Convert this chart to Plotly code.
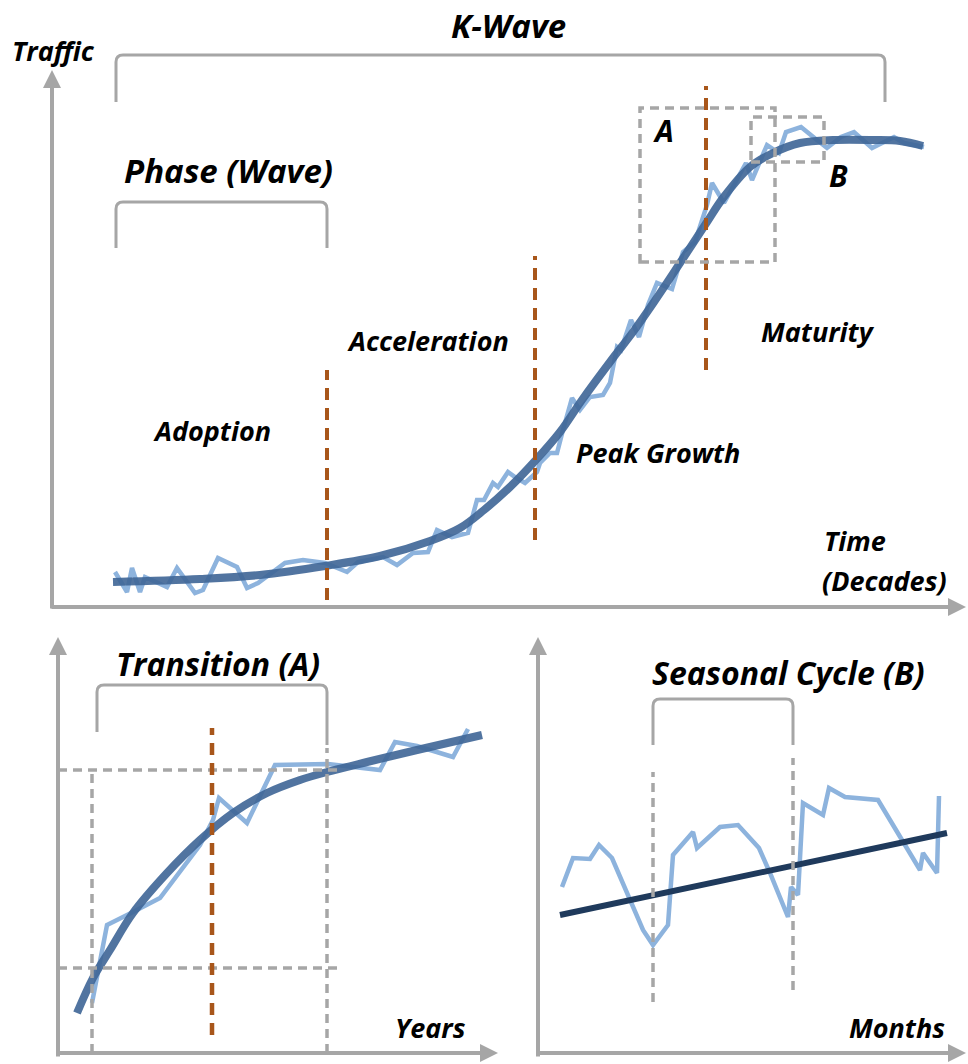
import plotly.graph_objects as go

# ---------------- data ----------------
# Top panel: K-Wave (time index vs traffic index)
kwave_time_raw = [6.3, 7.5, 8.0, 8.8, 9.3, 11.5, 12.5, 14.3, 15.1, 16.6, 18.5, 19.5, 20.6, 23.3,
                  25.1, 27.3, 29.5, 30.6, 33.1, 34.5, 36.1, 37.6, 38.5, 40.0, 41.6, 42.5, 43.2,
                  44.1, 44.6, 45.6, 46.3, 47.3, 48.5, 48.8, 49.8, 50.5, 51.1, 52.0, 52.8, 53.8,
                  55.1, 55.8, 56.5, 56.9, 57.9, 58.7, 59.6, 60.5, 62.0, 63.1, 64.3, 65.5, 66.0,
                  67.2, 69.4, 70.0, 71.5, 72.7, 73.4, 74.9, 76.5, 77.5, 78.9, 80.2, 82.0, 84.2,
                  85.2, 87.2]
kwave_traffic_raw = [7.0, 3.0, 7.8, 3.0, 6.0, 4.0, 7.8, 2.8, 3.4, 9.8, 8.0, 3.8, 4.8, 8.8,
                     9.4, 8.8, 7.0, 9.0, 10.0, 8.4, 10.8, 11.0, 15.4, 14.0, 14.8, 21.4, 21.4,
                     24.8, 24.0, 27.0, 26.0, 24.8, 27.0, 28.8, 30.8, 30.8, 35.4, 41.8, 39.4, 42.0,
                     42.4, 44.8, 52.0, 51.4, 57.4, 54.0, 60.4, 64.8, 63.6, 71.0, 73.0, 80.4, 84.8,
                     80.8, 88.8, 85.4, 92.4, 90.8, 95.0, 96.0, 93.4, 91.8, 94.0, 95.0, 91.8, 94.0,
                     92.8, 92.0]
kwave_time_trend = [6.1, 14.8, 20.8, 27.3, 32.8, 37.8, 40.8, 43.2, 45.8, 48.3, 50.8, 53.0, 56.1,
                    58.1, 60.2, 62.8, 65.5, 67.1, 69.8, 72.1, 74.8, 78.1, 82.1, 84.8, 87.1]
kwave_traffic_trend = [5.0, 5.6, 6.4, 8.2, 10.2, 13.2, 15.8, 19.4, 24.0, 29.2, 35.0, 41.4, 49.8,
                       55.0, 61.0, 68.8, 77.0, 81.8, 88.0, 90.8, 92.8, 93.4, 93.4, 93.2, 92.2]
phase_boundaries = [27.5, 48.3, 65.4]
phase_labels = ["Adoption", "Acceleration", "Peak Growth", "Maturity"]

# Bottom-left: Transition (A) in years
trans_years_raw = [3.4, 4.9, 7.5, 10.2, 14.2, 15.5, 16.1, 18.9, 21.7, 27.0, 32.2, 33.7, 35.9,
                   39.5, 41.0]
trans_traffic_raw = [10.0, 25.6, 28.2, 31.0, 41.6, 46.6, 51.0, 46.0, 57.6, 57.8, 56.6, 62.2,
                     61.4, 59.2, 64.8]
trans_years_trend = [1.9, 3.5, 5.2, 7.5, 10.9, 14.2, 17.5, 20.9, 24.2, 26.9, 30.9, 35.9, 42.4]
trans_traffic_trend = [8.0, 15.0, 20.6, 28.0, 36.0, 42.6, 48.0, 52.0, 54.6, 56.2, 58.2, 60.6, 63.6]
trans_marks = [3.4, 15.4, 26.9]          # start, midpoint, end (years)
trans_levels = [17.0, 56.6]              # traffic levels at start / end

# Bottom-right: Seasonal Cycle (B) in months
season_months_raw = [2.4, 3.5, 5.2, 6.1, 7.4, 8.9, 10.5, 11.5, 13.0, 13.5, 15.5, 15.9, 18.2,
                     20.0, 22.1, 23.2, 25.0, 25.3, 26.0, 26.5, 28.5, 29.1, 30.7, 34.0, 36.5,
                     38.2, 38.5, 39.9, 40.1]
season_traffic_raw = [33.2, 39.0, 38.8, 41.6, 39.0, 32.2, 24.6, 21.6, 25.6, 39.6, 44.2, 41.0,
                      45.2, 45.6, 41.0, 36.0, 27.2, 33.2, 31.6, 50.0, 47.6, 53.0, 51.2, 50.6,
                      42.2, 36.6, 40.0, 36.0, 51.4]
season_months_trend = [2.2, 40.9]
season_traffic_trend = [27.6, 44.0]
season_marks = [11.5, 25.5]

# ---------------- styles ----------------
GREY = "#A6A6A6"
ORANGE = "#A8561A"
RAW = "#8DB3DD"
SMOOTH = "rgba(62,101,150,0.9)"
NAVY = "#1F3A5C"
FONT = "Open Sans"
ODASH = "12px,8px"
GDASH = "9px,6px"

fig = go.Figure()

fig.add_trace(go.Scatter(x=kwave_time_raw, y=kwave_traffic_raw, mode="lines",
                         line=dict(color=RAW, width=4.5), xaxis="x", yaxis="y"))
fig.add_trace(go.Scatter(x=kwave_time_trend, y=kwave_traffic_trend, mode="lines",
                         line=dict(color=SMOOTH, width=8, shape="spline"), xaxis="x", yaxis="y"))
fig.add_trace(go.Scatter(x=trans_years_raw, y=trans_traffic_raw, mode="lines",
                         line=dict(color=RAW, width=4.5), xaxis="x2", yaxis="y2"))
fig.add_trace(go.Scatter(x=trans_years_trend, y=trans_traffic_trend, mode="lines",
                         line=dict(color=SMOOTH, width=8, shape="spline"), xaxis="x2", yaxis="y2"))
fig.add_trace(go.Scatter(x=season_months_raw, y=season_traffic_raw, mode="lines",
                         line=dict(color=RAW, width=4.5), xaxis="x3", yaxis="y3"))
fig.add_trace(go.Scatter(x=season_months_trend, y=season_traffic_trend, mode="lines",
                         line=dict(color=NAVY, width=6), xaxis="x3", yaxis="y3"))

shapes = []


def vline(x, y0, y1, ax, color, dash, width=3.5):
    shapes.append(dict(type="line", xref=ax[0], yref=ax[1], x0=x, x1=x, y0=y0, y1=y1,
                       line=dict(color=color, width=width, dash=dash)))


def hline(y, x0, x1, ax, color, dash, width=3.5):
    shapes.append(dict(type="line", xref=ax[0], yref=ax[1], x0=x0, x1=x1, y0=y, y1=y,
                       line=dict(color=color, width=width, dash=dash)))


def bracket(x0, x1, ytop, yl, yr, ax, rx=0.7, ry=1.4):
    path = (f"M {x0},{yl} L {x0},{ytop - ry} Q {x0},{ytop} {x0 + rx},{ytop} "
            f"L {x1 - rx},{ytop} Q {x1},{ytop} {x1},{ytop - ry} L {x1},{yr}")
    shapes.append(dict(type="path", xref=ax[0], yref=ax[1], path=path,
                       line=dict(color=GREY, width=3)))


TOP = ("x", "y")
BL = ("x2", "y2")
BR = ("x3", "y3")

# top panel
vline(phase_boundaries[0], 1.4, 47.4, TOP, ORANGE, ODASH, 4)
vline(phase_boundaries[1], 13.4, 70.2, TOP, ORANGE, ODASH, 4)
vline(phase_boundaries[2], 47.4, 104.2, TOP, ORANGE, ODASH, 4)
shapes.append(dict(type="rect", xref="x", yref="y", x0=58.8, x1=72.3, y0=69.0, y1=99.8,
                   line=dict(color=GREY, width=3.5, dash=GDASH)))
shapes.append(dict(type="rect", xref="x", yref="y", x0=69.9, x1=77.2, y0=89.0, y1=98.0,
                   line=dict(color=GREY, width=3.5, dash=GDASH)))
bracket(6.4, 83.3, 110.4, 101.0, 101.0, TOP)
bracket(6.4, 27.5, 81.0, 71.8, 71.8, TOP)

# bottom-left panel
hline(trans_levels[1], 0, 28.2, BL, GREY, GDASH)
hline(trans_levels[0], 0, 28.2, BL, GREY, GDASH)
vline(trans_marks[0], 0, trans_levels[1], BL, GREY, GDASH)
vline(trans_marks[2], 0, 61.0, BL, GREY, GDASH)
vline(trans_marks[1], 3.6, 65.0, BL, ORANGE, ODASH, 4.5)
bracket(3.9, trans_marks[2], 73.6, 64.2, 61.6, BL)

# bottom-right panel
vline(season_marks[0], 10.2, 56.2, BR, GREY, GDASH)
vline(season_marks[1], 12.6, 59.0, BR, GREY, GDASH)
bracket(season_marks[0], season_marks[1], 70.8, 61.6, 61.6, BR)

annotations = []


def arrow(x, y, axv, ayv, ax):
    annotations.append(dict(x=x, y=y, ax=axv, ay=ayv, xref=ax[0], yref=ax[1],
                            axref=ax[0], ayref=ax[1], text="", showarrow=True,
                            arrowhead=2, arrowsize=0.9, arrowwidth=4, arrowcolor=GREY))


arrow(0, 107.4, 0, -0.6, TOP)
arrow(91.4, 0, -0.2, 0, TOP)
arrow(0, 83.2, 0, -1.0, BL)
arrow(44.0, 0, -0.2, 0, BL)
arrow(0, 83.2, 0, -1.0, BR)
arrow(42.8, 0, -0.2, 0, BR)


def label(text, x, y, ax, size=27, xanchor="center"):
    annotations.append(dict(x=x, y=y, xref=ax[0], yref=ax[1], text=text, showarrow=False,
                            xanchor=xanchor, yanchor="middle",
                            font=dict(family=FONT, size=size, color="black",
                                      weight="bold", style="italic")))


label("K-Wave", 45.6, 116.4, TOP, size=33)
label("Traffic", 0.1, 111.4, TOP, size=27)
label("Phase (Wave)", 17.6, 87.4, TOP, size=33)
label(phase_labels[0], 16.0, 35.4, TOP)
label(phase_labels[1], 37.6, 53.4, TOP)
label(phase_labels[2], 60.6, 31.0, TOP)
label(phase_labels[3], 76.6, 55.2, TOP)
label("Time", 77.0, 13.4, TOP, xanchor="left")
label("(Decades)", 76.8, 5.4, TOP, xanchor="left")
label("A", 61.1, 95.4, TOP, size=30)
label("B", 78.6, 86.4, TOP, size=30)

label("Transition (A)", 16.0, 78.0, BL, size=32)
label("Years", 37.2, 5.2, BL)
label("Seasonal Cycle (B)", 25.0, 76.2, BR, size=32)
label("Months", 35.9, 5.2, BR)

ax_common = dict(visible=False, showgrid=False, zeroline=False, fixedrange=True)
ytop = 1 - 620 / 1064
xsplit = 520 / 968

fig.update_layout(
    width=968, height=1064,
    margin=dict(l=0, r=0, t=0, b=0),
    paper_bgcolor="white", plot_bgcolor="white",
    showlegend=False,
    xaxis=dict(domain=[0, 1], range=[-5.2, 91.6], anchor="y", **ax_common),
    yaxis=dict(domain=[ytop, 1], range=[-2.6, 121.4], anchor="x", **ax_common),
    xaxis2=dict(domain=[0, xsplit], range=[-5.8, 46.2], anchor="y2", **ax_common),
    yaxis2=dict(domain=[0, ytop], range=[-2.2, 86.6], anchor="x2", **ax_common),
    xaxis3=dict(domain=[xsplit, 1], range=[-1.8, 43.0], anchor="y3", **ax_common),
    yaxis3=dict(domain=[0, ytop], range=[-2.2, 86.6], anchor="x3", **ax_common),
    shapes=shapes,
    annotations=annotations,
)

fig.write_html("out.html", config={"displayModeBar": False},
               post_script="document.body.style.margin='0px';document.body.style.padding='0px';")
